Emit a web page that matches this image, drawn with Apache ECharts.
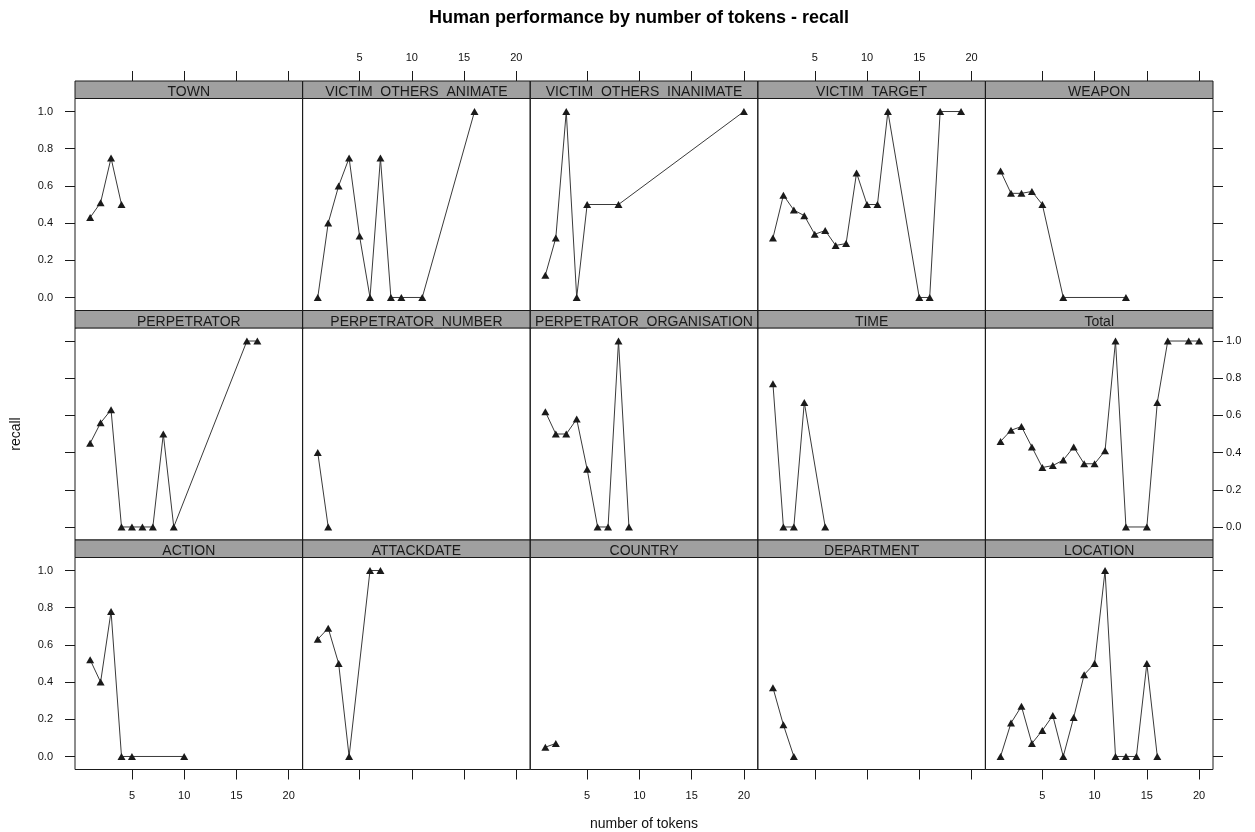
<!DOCTYPE html>
<html><head><meta charset="utf-8">
<script src="https://cdn.jsdelivr.net/npm/echarts@6/dist/echarts.min.js"></script>
<style>html,body{margin:0;padding:0;background:#fff}#c{width:1255px;height:832px}</style>
</head><body><div id="c"></div>
<script>
// ---- data ----
const panelNames = ['TOWN','VICTIM_OTHERS_ANIMATE','VICTIM_OTHERS_INANIMATE','VICTIM_TARGET','WEAPON',
  'PERPETRATOR','PERPETRATOR_NUMBER','PERPETRATOR_ORGANISATION','TIME','Total',
  'ACTION','ATTACKDATE','COUNTRY','DEPARTMENT','LOCATION'];
const townX = [1,2,3,4];
const townY = [0.43,0.51,0.75,0.5];
const victimOthersAnimateX = [1,2,3,4,5,6,7,8,9,11,16];
const victimOthersAnimateY = [0,0.4,0.6,0.75,0.33,0,0.75,0,0,0,1];
const victimOthersInanimateX = [1,2,3,4,5,8,20];
const victimOthersInanimateY = [0.12,0.32,1,0,0.5,0.5,1];
const victimTargetX = [1,2,3,4,5,6,7,8,9,10,11,12,15,16,17,19];
const victimTargetY = [0.32,0.55,0.47,0.44,0.34,0.36,0.28,0.29,0.67,0.5,0.5,1,0,0,1,1];
const weaponX = [1,2,3,4,5,7,13];
const weaponY = [0.68,0.56,0.56,0.57,0.5,0,0];
const perpetratorX = [1,2,3,4,5,6,7,8,9,16,17];
const perpetratorY = [0.45,0.56,0.63,0,0,0,0,0.5,0,1,1];
const perpetratorNumberX = [1,2];
const perpetratorNumberY = [0.4,0];
const perpetratorOrganisationX = [1,2,3,4,5,6,7,8,9];
const perpetratorOrganisationY = [0.62,0.5,0.5,0.58,0.31,0,0,1,0];
const timeX = [1,2,3,4,6];
const timeY = [0.77,0,0,0.67,0];
const totalX = [1,2,3,4,5,6,7,8,9,10,11,12,13,15,16,17,19,20];
const totalY = [0.46,0.52,0.54,0.43,0.32,0.33,0.36,0.43,0.34,0.34,0.41,1,0,0,0.67,1,1,1];
const actionX = [1,2,3,4,5,10];
const actionY = [0.52,0.4,0.78,0,0,0];
const attackdateX = [1,2,3,4,6,7];
const attackdateY = [0.63,0.69,0.5,0,1,1];
const countryX = [1,2];
const countryY = [0.05,0.07];
const departmentX = [1,2,3];
const departmentY = [0.37,0.17,0];
const locationX = [1,2,3,4,5,6,7,8,9,10,11,12,13,14,15,16];
const locationY = [0,0.18,0.27,0.07,0.14,0.22,0,0.21,0.44,0.5,1,0,0,0,0.5,0];
const xTickValues = [5,10,15,20];
const yTickValues = [0,0.2,0.4,0.6,0.8,1.0];

const panelX = [townX,victimOthersAnimateX,victimOthersInanimateX,victimTargetX,weaponX,
  perpetratorX,perpetratorNumberX,perpetratorOrganisationX,timeX,totalX,
  actionX,attackdateX,countryX,departmentX,locationX];
const panelY = [townY,victimOthersAnimateY,victimOthersInanimateY,victimTargetY,weaponY,
  perpetratorY,perpetratorNumberY,perpetratorOrganisationY,timeY,totalY,
  actionY,attackdateY,countryY,departmentY,locationY];

// ---- layout ----
const FONT = 'Liberation Sans, Arial, sans-serif';
const L0 = 75, CW = 227.6, T0 = 81, SH = 17.5, PH = 212, RP = 229.5;
const XMIN = -0.45, XMAX = 21.33, YMIN = -0.07, YMAX = 1.07;
const TICKLEN = 10;

const grids = [], xAxes = [], yAxes = [], series = [], graphics = [];
for (let r = 0; r < 3; r++) {
  for (let c = 0; c < 5; c++) {
    const g = r * 5 + c;
    const left = L0 + c * CW, stripTop = T0 + r * RP, top = stripTop + SH;
    grids.push({left: left, top: top, width: CW, height: PH, show: true,
      borderColor: '#1a1a1a', borderWidth: 1, backgroundColor: 'transparent'});
    const tickStyle = {color: '#1a1a1a', width: 1};
    const lab = {color: '#111', fontSize: 11, fontFamily: FONT};
    const noLine = {show: false, onZero: false};
    // bottom x
    xAxes.push({type: 'value', gridIndex: g, position: 'bottom', min: XMIN, max: XMAX,
      axisLine: noLine, splitLine: {show: false},
      axisTick: {show: r === 2, inside: false, length: TICKLEN, lineStyle: tickStyle, customValues: xTickValues},
      axisLabel: Object.assign({show: r === 2 && c % 2 === 0, margin: 21, customValues: xTickValues}, lab)});
    // top x
    xAxes.push({type: 'value', gridIndex: g, position: 'top', offset: SH, min: XMIN, max: XMAX,
      axisLine: noLine, splitLine: {show: false},
      axisTick: {show: r === 0, inside: false, length: TICKLEN, lineStyle: tickStyle, customValues: xTickValues},
      axisLabel: Object.assign({show: r === 0 && c % 2 === 1, margin: 18, customValues: xTickValues}, lab)});
    // left y
    yAxes.push({type: 'value', gridIndex: g, position: 'left', min: YMIN, max: YMAX,
      axisLine: noLine, splitLine: {show: false},
      axisTick: {show: c === 0, inside: false, length: TICKLEN, lineStyle: tickStyle, customValues: yTickValues},
      axisLabel: Object.assign({show: c === 0 && r !== 1, margin: 22, customValues: yTickValues,
        formatter: v => Number(v).toFixed(1)}, lab)});
    // right y
    yAxes.push({type: 'value', gridIndex: g, position: 'right', min: YMIN, max: YMAX,
      axisLine: noLine, splitLine: {show: false},
      axisTick: {show: c === 4, inside: false, length: TICKLEN, lineStyle: tickStyle, customValues: yTickValues},
      axisLabel: Object.assign({show: c === 4 && r === 1, margin: 13, customValues: yTickValues,
        formatter: v => Number(v).toFixed(1)}, lab)});
    series.push({type: 'line', xAxisIndex: 2 * g, yAxisIndex: 2 * g,
      data: panelX[g].map((x, i) => [x, panelY[g][i]]),
      symbol: 'triangle', symbolSize: [8, 7], showSymbol: true,
      lineStyle: {color: '#3a3a3a', width: 1}, itemStyle: {color: '#1a1a1a'},
      animation: false, silent: true, z: 3});
    // strip
    graphics.push({type: 'rect', z: 20, shape: {x: left, y: stripTop, width: CW, height: SH},
      style: {fill: '#a0a0a0'}});
    graphics.push({type: 'text', z: 21, x: left + CW / 2, y: stripTop + 11.2,
      style: {text: panelNames[g], fill: '#1a1a1a', font: '14px ' + FONT, align: 'center', verticalAlign: 'middle'}});
    graphics.push({type: 'rect', z: 22, shape: {x: left + 1.5, y: top + 0.5, width: CW - 3, height: 3.5},
      style: {fill: '#ffffff'}});
    graphics.push({type: 'rect', z: 23, shape: {x: left, y: stripTop, width: CW, height: SH},
      style: {fill: null, stroke: '#1a1a1a', lineWidth: 1}});
  }
}
graphics.push({type: 'text', z: 30, x: 16, y: 434, rotation: Math.PI / 2,
  style: {text: 'recall', fill: '#111', font: '14px ' + FONT, align: 'center', verticalAlign: 'middle'}});
graphics.push({type: 'text', z: 30, x: 644, y: 824,
  style: {text: 'number of tokens', fill: '#111', font: '14px ' + FONT, align: 'center', verticalAlign: 'middle'}});

const chart = echarts.init(document.getElementById('c'), null, {renderer: 'canvas'});
chart.setOption({
  backgroundColor: '#ffffff',
  animation: false,
  title: {text: 'Human performance by number of tokens - recall', left: 634, top: 4, textAlign: 'center',
    textStyle: {fontSize: 18, fontWeight: 'bold', color: '#000', fontFamily: FONT}},
  grid: grids, xAxis: xAxes, yAxis: yAxes, series: series, graphic: graphics
});
</script></body></html>
